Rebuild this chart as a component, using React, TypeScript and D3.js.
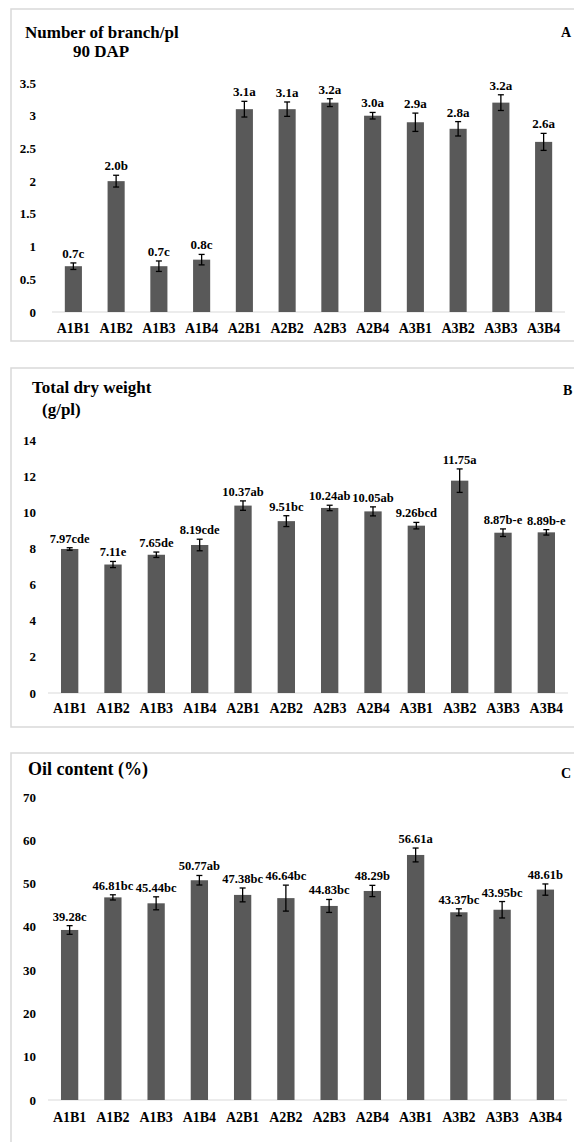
import React from "react";
import * as d3 from "d3";

const categories = ["A1B1","A1B2","A1B3","A1B4","A2B1","A2B2","A2B3","A2B4","A3B1","A3B2","A3B3","A3B4"];

const branchValues = [0.7, 2.0, 0.7, 0.8, 3.1, 3.1, 3.2, 3.0, 2.9, 2.8, 3.2, 2.6];
const branchErrors = [0.05, 0.09, 0.08, 0.08, 0.12, 0.11, 0.06, 0.05, 0.14, 0.11, 0.12, 0.13];
const branchLetters = ["c","b","c","c","a","a","a","a","a","a","a","a"];
const branchTicks = [0, 0.5, 1, 1.5, 2, 2.5, 3, 3.5];

const dryValues = [7.97, 7.11, 7.65, 8.19, 10.37, 9.51, 10.24, 10.05, 9.26, 11.75, 8.87, 8.89];
const dryErrors = [0.07, 0.17, 0.15, 0.32, 0.26, 0.3, 0.15, 0.25, 0.18, 0.65, 0.21, 0.15];
const dryLetters = ["cde","e","de","cde","ab","bc","ab","ab","bcd","a","b-e","b-e"];
const dryTicks = [0, 2, 4, 6, 8, 10, 12, 14];

const oilValues = [39.28, 46.81, 45.44, 50.77, 47.38, 46.64, 44.83, 48.29, 56.61, 43.37, 43.95, 48.61];
const oilErrors = [1.0, 0.6, 1.5, 1.1, 1.6, 3.0, 1.5, 1.3, 1.6, 0.8, 1.9, 1.3];
const oilLetters = ["c","bc","bc","ab","bc","bc","bc","b","a","bc","bc","b"];
const oilTicks = [0, 10, 20, 30, 40, 50, 60, 70];

const FONT = "'Liberation Serif', 'Times New Roman', 'DejaVu Serif', serif";
const BAR = "#595959";
const GRID = "#d9d9d9";

type PanelProps = {
  boxTop: number;
  boxBottom: number;
  y0: number;
  yTop: number;
  max: number;
  x0: number;
  x1: number;
  values: number[];
  errors: number[];
  letters: string[];
  ticks: number[];
  digits: number;
  catY: number;
  titleLines: { text: string; x: number; y: number; size: number }[];
  tag: { text: string; x: number; y: number };
  labelSize: number;
};

function Panel(p: PanelProps) {
  const x = d3.scaleBand<string>().domain(categories).range([p.x0, p.x1]).paddingInner(0.6).paddingOuter(0.3);
  const y = d3.scaleLinear().domain([0, p.max]).range([p.y0, p.yTop]);
  const bw = x.bandwidth();
  return (
    <g>
      <rect x={11} y={p.boxTop} width={620} height={p.boxBottom - p.boxTop} fill="#fff" stroke={GRID} strokeWidth={1.5} />
      {p.titleLines.map((t, i) => (
        <text key={i} x={t.x} y={t.y} fontFamily={FONT} fontWeight="bold" fontSize={t.size} fill="#000">{t.text}</text>
      ))}
      <text x={p.tag.x} y={p.tag.y} fontFamily={FONT} fontWeight="bold" fontSize={14} fill="#000">{p.tag.text}</text>
      {p.ticks.map((t) => (
        <text key={t} x={36} y={y(t)} dy="0.35em" textAnchor="end" fontFamily={FONT} fontWeight="bold" fontSize={13} fill="#000">{String(t)}</text>
      ))}
      <line x1={p.x0} x2={p.x1} y1={p.y0} y2={p.y0} stroke={GRID} strokeWidth={1} />
      {categories.map((c, i) => {
        const cx = (x(c) as number) + bw / 2;
        const v = p.values[i];
        const e = p.errors[i];
        const top = y(v + e);
        const bot = y(v - e);
        return (
          <g key={c}>
            <rect x={x(c)} y={y(v)} width={bw} height={p.y0 - y(v)} fill={BAR} />
            <line x1={cx} x2={cx} y1={top} y2={bot} stroke="#000" strokeWidth={1.3} />
            <line x1={cx - 3} x2={cx + 3} y1={top} y2={top} stroke="#000" strokeWidth={1.3} />
            <line x1={cx - 3} x2={cx + 3} y1={bot} y2={bot} stroke="#000" strokeWidth={1.3} />
            <text x={cx} y={top - 5} textAnchor="middle" fontFamily={FONT} fontWeight="bold" fontSize={p.labelSize} fill="#000">
              {v.toFixed(p.digits) + p.letters[i]}
            </text>
            <text x={cx} y={p.catY} textAnchor="middle" fontFamily={FONT} fontWeight="bold" fontSize={14} fill="#000">{c}</text>
          </g>
        );
      })}
    </g>
  );
}

export default function App() {
  return (
    <div style={{ position: "absolute", left: 0, top: 0 }}>
      <svg width={574} height={1142} style={{ display: "block", background: "#fff" }}>
        <Panel
          boxTop={9} boxBottom={341} y0={312} yTop={83} max={3.5} x0={52} x1={565}
          values={branchValues} errors={branchErrors} letters={branchLetters} ticks={branchTicks} digits={1}
          catY={333}
          titleLines={[{ text: "Number of branch/pl", x: 25, y: 38, size: 17 }, { text: "90 DAP", x: 73, y: 57, size: 17 }]}
          tag={{ text: "A", x: 561, y: 37 }}
          labelSize={13}
        />
        <Panel
          boxTop={368} boxBottom={727} y0={693} yTop={440} max={14} x0={48} x1={568}
          values={dryValues} errors={dryErrors} letters={dryLetters} ticks={dryTicks} digits={2}
          catY={713}
          titleLines={[{ text: "Total dry weight", x: 32, y: 393, size: 17 }, { text: "(g/pl)", x: 42, y: 415, size: 17 }]}
          tag={{ text: "B", x: 563, y: 395 }}
          labelSize={12.5}
        />
        <Panel
          boxTop={753} boxBottom={1150} y0={1100} yTop={797} max={70} x0={48} x1={567}
          values={oilValues} errors={oilErrors} letters={oilLetters} ticks={oilTicks} digits={2}
          catY={1122}
          titleLines={[{ text: "Oil content (%)", x: 28, y: 775, size: 18 }]}
          tag={{ text: "C", x: 561, y: 778 }}
          labelSize={12.5}
        />
      </svg>
    </div>
  );
}
